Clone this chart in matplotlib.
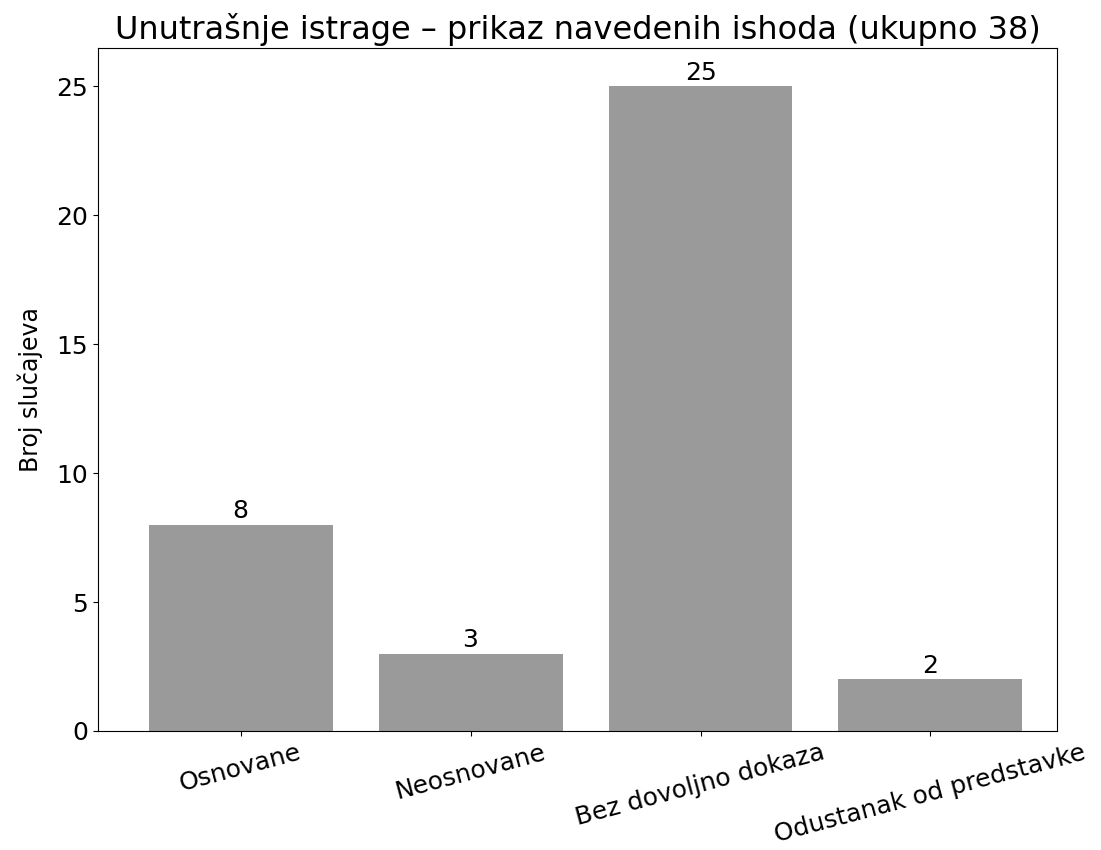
import matplotlib
matplotlib.use("Agg")
import matplotlib.pyplot as plt

# Ishodi unutrašnjih istraga
categories = ["Osnovane", "Neosnovane", "Bez dovoljno dokaza", "Odustanak od predstavke"]
counts = [8, 3, 25, 2]

fig, ax = plt.subplots(figsize=(11.01, 8.5), dpi=100)

bars = ax.bar(categories, counts, color="#9a9a9a", width=0.8)
ax.bar_label(bars, fontsize=18, padding=1)

ax.set_title("Unutrašnje istrage – prikaz navedenih ishoda (ukupno 38)", fontsize=23)
ax.set_ylabel("Broj slučajeva", fontsize=17, labelpad=10)
ax.tick_params(axis="y", labelsize=18)
ax.tick_params(axis="x", labelsize=18)
plt.setp(ax.get_xticklabels(), rotation=15, ha="center")
ax.set_xlim(-0.62, 3.55)
ax.set_ylim(0, 26.5)

fig.subplots_adjust(left=0.089, right=0.96, top=0.944, bottom=0.14)
fig.savefig("out.png", dpi=100)
